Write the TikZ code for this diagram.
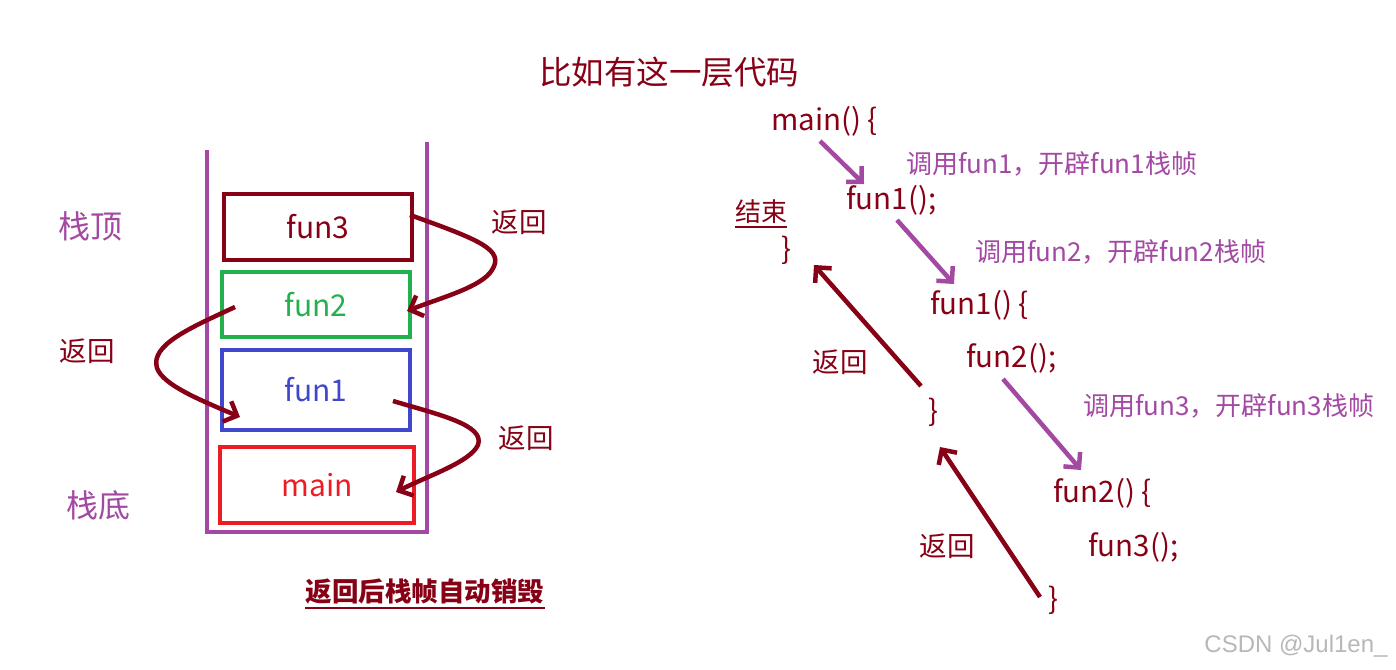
\documentclass[tikz,border=0pt]{standalone}
\usepackage{fontspec}
\setmainfont{Noto Sans CJK SC}
\newfontfamily\wmfont{Liberation Sans}
\usetikzlibrary{arrows.meta}
\definecolor{dred}{RGB}{136,0,21}
\definecolor{ppl}{RGB}{163,73,164}
\definecolor{grn}{RGB}{34,177,76}
\definecolor{blu}{RGB}{63,72,204}
\definecolor{rd}{RGB}{237,28,36}
\tikzset{
  frame/.style={draw,line width=4pt,inner sep=0pt,font=\fontsize{30}{32}\selectfont},
  code/.style={text=dred,font=\fontsize{29.5}{31}\selectfont,anchor=west,inner sep=0pt},
  call/.style={text=ppl,font=\fontsize{26}{28}\selectfont,anchor=west,inner sep=0pt},
  ret/.style={text=dred,font=\fontsize{27.5}{29}\selectfont,inner sep=0pt},
  side/.style={text=ppl,font=\fontsize{32}{34}\selectfont,inner sep=0pt},
  rarrow/.style={draw=dred,line width=4.5pt,-{Straight Barb[length=11pt,width=22pt,line width=4.5pt]}},
  parrow/.style={draw=ppl,line width=4.5pt,-{Straight Barb[length=11pt,width=22pt,line width=4.5pt]}},
}
\begin{document}
\begin{tikzpicture}[x=1pt,y=-1pt]
\useasboundingbox[fill=white] (0,0) rectangle (1396,669);
% title
\node[text=dred,font=\fontsize{32.5}{34}\selectfont] (title) at (669,72) {比如有这一层代码};
% stack container
\draw[ppl,line width=4pt] (207,150) -- (207,532) -- (427,532) -- (427,142);
% frames
\node[frame,draw=dred,minimum width=188pt,minimum height=66pt,text=dred] (f3) at (318,227) {fun3};
\node[frame,draw=grn,minimum width=188pt,minimum height=65pt,text=grn] (f2) at (316,304.5) {fun2};
\node[frame,draw=blu,minimum width=188pt,minimum height=80pt,text=blu] (f1) at (316,390) {fun1};
\node[frame,draw=rd,minimum width=194pt,minimum height=76pt,text=rd] (fm) at (317,485) {main};
% side labels
\node[side] (top) at (90,226) {栈顶};
\node[side] (bot) at (98,505) {栈底};
\node[ret] (r1) at (519,222) {返回};
\node[ret] (r2) at (87,351) {返回};
\node[ret] (r3) at (526,438) {返回};
% return curves
\coordinate (a1) at (410,215);
\coordinate (a1e) at (407,311);
\draw[rarrow] (a1) .. controls (480,240) and (505,250) .. (492,270) .. controls (482,287) and (440,298) .. (a1e);
\coordinate (a2) at (235,307);
\coordinate (a2e) at (240,417);
\draw[rarrow] (a2) .. controls (190,328) and (150,345) .. (157,368) .. controls (163,385) and (200,400) .. (a2e);
\coordinate (a3) at (393,401);
\coordinate (a3e) at (396,492);
\draw[rarrow] (a3) .. controls (440,415) and (485,425) .. (478,445) .. controls (470,462) and (430,475) .. (a3e);
% bottom caption
\node[text=dred,font=\bfseries\fontsize{26.5}{28}\selectfont,inner sep=0pt] (cap) at (425,592) {返回后栈帧自动销毁};
\draw[dred,line width=2.5pt] (305,608) -- (545,608);
% code
\node[code] (c1) at (771,121) {main() \{};
\node[code] (c2) at (846,200) {fun1();};
\node[text=dred,font=\fontsize{26}{28}\selectfont,anchor=west,inner sep=0pt] (end) at (735,212) {结束};
\draw[dred,line width=1.5pt] (735,227) -- (787,227);
\node[code] (c3) at (781,250) {\}};
\node[code] (c4) at (930,305) {fun1() \{};
\node[code] (c5) at (966,358) {fun2();};
\node[code] (c6) at (928,412) {\}};
\node[code] (c7) at (1053,493) {fun2() \{};
\node[code] (c8) at (1088,547) {fun3();};
\node[code] (c9) at (1048,600) {\}};
% call labels
\node[call] (l1) at (906,164) {调用fun1，开辟fun1栈帧};
\node[call] (l2) at (975,252) {调用fun2，开辟fun2栈帧};
\node[call] (l3) at (1083,406) {调用fun3，开辟fun3栈帧};
% call arrows
\coordinate (p1s) at (820,141); \coordinate (p1e) at (864,184);
\draw[parrow] (p1s) -- (p1e);
\coordinate (p2s) at (897,220); \coordinate (p2e) at (954,284);
\draw[parrow] (p2s) -- (p2e);
\coordinate (p3s) at (1003,379); \coordinate (p3e) at (1081,470);
\draw[parrow] (p3s) -- (p3e);
% return arrows
\coordinate (q1s) at (921,386); \coordinate (q1e) at (814,265);
\draw[rarrow] (q1s) -- (q1e);
\coordinate (q2s) at (1040,597); \coordinate (q2e) at (940,447);
\draw[rarrow] (q2s) -- (q2e);
\node[ret] (r4) at (840,362) {返回};
\node[ret] (r5) at (947,546) {返回};
% watermark
\node[text=black!28,font=\wmfont\fontsize{24}{26}\selectfont,inner sep=0pt] (wm) at (1296,646) {CSDN @Jul1en\_};
\end{tikzpicture}
\end{document}
